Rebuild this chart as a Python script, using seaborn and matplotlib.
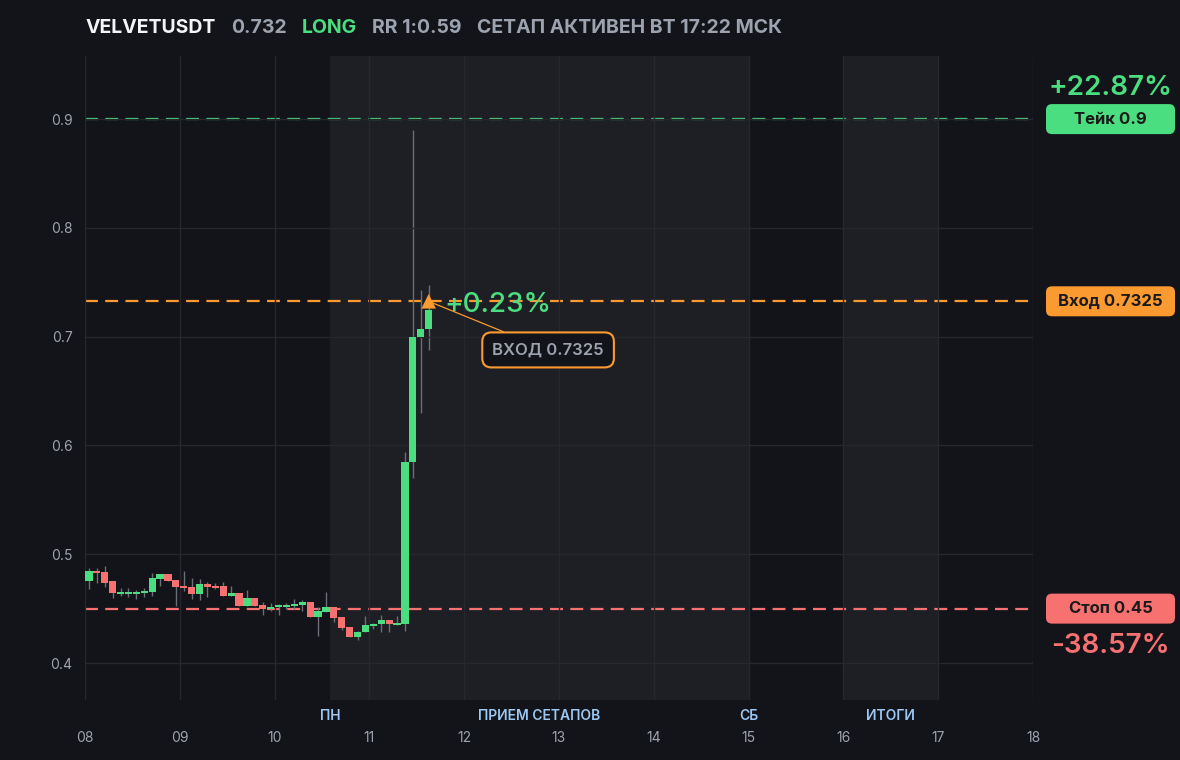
import numpy as np
import pandas as pd
import seaborn as sns
import matplotlib.pyplot as plt
from matplotlib.patches import FancyBboxPatch
from matplotlib.transforms import IdentityTransform, blended_transform_factory

# header
symbol = "VELVETUSDT"
last_price = "0.732"
side = "LONG"
rr_text = "RR 1:0.59"
status_text = "СЕТАП АКТИВЕН ВТ 17:22 МСК"

# x axis: days of month, 2h candles starting at day 08
day_ticks = [8, 9, 10, 11, 12, 13, 14, 15, 16, 17, 18]
day_labels = ["08", "09", "10", "11", "12", "13", "14", "15", "16", "17", "18"]
candle_start = 8.0
candle_step = 1 / 12

opens = [0.475, 0.485, 0.484, 0.475, 0.4635, 0.4635, 0.4635, 0.4645, 0.4655, 0.4775,
         0.482, 0.4765, 0.471, 0.470, 0.4635, 0.4725, 0.471, 0.471, 0.4615, 0.4645,
         0.4525, 0.460, 0.4535, 0.450, 0.4515, 0.4515, 0.4525, 0.4535, 0.4565, 0.4425,
         0.447, 0.4515, 0.4425, 0.4335, 0.424, 0.4285, 0.434, 0.436, 0.4395, 0.435,
         0.436, 0.585, 0.700, 0.707]
closes = [0.485, 0.483, 0.474, 0.464, 0.4655, 0.4655, 0.4655, 0.4665, 0.478, 0.482,
          0.4755, 0.470, 0.469, 0.4635, 0.4725, 0.470, 0.469, 0.4615, 0.4645, 0.4525,
          0.460, 0.4525, 0.450, 0.4515, 0.4535, 0.4535, 0.4545, 0.4565, 0.4425, 0.448,
          0.4515, 0.4415, 0.4325, 0.424, 0.4285, 0.435, 0.436, 0.4395, 0.436, 0.437,
          0.585, 0.700, 0.707, 0.7245]
highs = [0.487, 0.487, 0.489, 0.475, 0.469, 0.469, 0.467, 0.469, 0.483, 0.482,
         0.482, 0.4765, 0.485, 0.478, 0.4775, 0.4745, 0.4735, 0.4745, 0.471, 0.4645,
         0.467, 0.460, 0.456, 0.4555, 0.4545, 0.4555, 0.4585, 0.4575, 0.4565, 0.4515,
         0.4655, 0.4515, 0.4425, 0.4335, 0.4295, 0.4435, 0.437, 0.4445, 0.4395, 0.4435,
         0.594, 0.890, 0.743, 0.7475]
lows = [0.468, 0.474, 0.470, 0.460, 0.462, 0.461, 0.459, 0.461, 0.462, 0.471,
        0.4755, 0.452, 0.466, 0.459, 0.458, 0.461, 0.468, 0.4615, 0.4615, 0.4525,
        0.4525, 0.4525, 0.444, 0.4475, 0.4445, 0.4495, 0.4495, 0.4475, 0.4425, 0.425,
        0.4465, 0.438, 0.4305, 0.424, 0.4215, 0.4285, 0.4315, 0.4285, 0.4285, 0.435,
        0.429, 0.570, 0.630, 0.688]

# trade levels
take = 0.9
entry = 0.7325
stop = 0.45
take_label = "Тейк 0.9"
entry_label = "Вход 0.7325"
stop_label = "Стоп 0.45"
take_pct = "+22.87%"
stop_pct = "-38.57%"
entry_pct = "+0.23%"
entry_box = "ВХОД 0.7325"
entry_candle = 43

# session shading and labels
sessions = [(10 + 14 / 24, 15.0), (16.0, 17.0)]
session_names = ["ПН", "ПРИЕМ СЕТАПОВ", "СБ", "ИТОГИ"]
session_pos = [10 + 14 / 24, 12.79, 15.0, 16.5]

BG = "#131419"
SHADE = "#1e1f24"
GRID = "#27282e"
GREEN = "#4ade80"
RED = "#f87171"
ORANGE = "#fb9a30"
GRAY = "#9ca3af"
BLUE = "#9cc8f3"
WICK = "#6b6e78"

sns.set_theme(style="dark", rc={
    "axes.facecolor": BG, "figure.facecolor": BG, "axes.edgecolor": BG,
    "grid.color": GRID, "xtick.color": GRAY, "ytick.color": GRAY,
})
plt.rcParams["font.family"] = ["Inter", "DejaVu Sans"]

df = pd.DataFrame({"open": opens, "close": closes, "high": highs, "low": lows})
df["t"] = candle_start + candle_step * (np.arange(len(df)) + 0.5)
df["up"] = df["close"] >= df["open"]
df["bottom"] = df[["open", "close"]].min(axis=1)
df["height"] = (df["close"] - df["open"]).abs().clip(lower=0.0018)

fig = plt.figure(figsize=(11.8, 7.6), dpi=100)
ax = fig.add_axes([85 / 1180, 60 / 760, 948 / 1180, 644 / 760])
ax.set_xlim(8, 18)
ax.set_ylim(0.366, 0.958)

for a, b in sessions:
    ax.axvspan(a, b, color=SHADE, zorder=0, lw=0)

ax.set_axisbelow(False)
ax.grid(True, color=GRID, lw=1, zorder=0.5)
ax.set_xticks(day_ticks)
ax.set_xticklabels(day_labels)
ax.set_yticks([0.4, 0.5, 0.6, 0.7, 0.8, 0.9])
ax.set_yticklabels(["0.4", "0.5", "0.6", "0.7", "0.8", "0.9"])
ax.tick_params(axis="x", length=0, pad=22, labelsize=10, labelcolor=GRAY)
ax.tick_params(axis="y", length=0, pad=9, labelsize=10, labelcolor=GRAY)
for s in ax.spines.values():
    s.set_visible(False)

# level lines
for lvl, col in [(take, GREEN), (entry, ORANGE), (stop, RED)]:
    ax.axhline(lvl, color=col, lw=1.6, dashes=(5.8, 3.3), zorder=1)

# candles
ax.vlines(df["t"], df["low"], df["high"], color=WICK, lw=1, zorder=2)
colors = np.where(df["up"], GREEN, RED)
ax.bar(df["t"], df["height"], bottom=df["bottom"], width=0.075, color=colors,
       lw=0, zorder=3)

# entry marker and annotation
et = df["t"].iloc[entry_candle]
sns.scatterplot(x=[et], y=[entry], marker="^", s=110, color=ORANGE,
                edgecolor="none", ax=ax, zorder=5)
ax.annotate(entry_pct, xy=(et, entry), xytext=(11, -3), textcoords="offset points",
            ha="left", va="center", color=GREEN, fontsize=20, fontweight="medium",
            zorder=6)
ax.annotate(entry_box, xy=(et, entry), xytext=(86, -35), textcoords="offset points",
            ha="center", va="center", color=GRAY, fontsize=12, fontweight="semibold",
            bbox=dict(boxstyle="round,pad=0.6,rounding_size=0.55", fc=BG, ec=ORANGE, lw=1.5),
            arrowprops=dict(arrowstyle="-", color=ORANGE, lw=0.9, shrinkA=0, shrinkB=0),
            zorder=6)
ax.set_xlabel("")
ax.set_ylabel("")
if ax.get_legend():
    ax.get_legend().remove()

# session labels below the plot
trans = blended_transform_factory(ax.transData, ax.transAxes)
for name, x in zip(session_names, session_pos):
    ax.text(x, -16 / 644, name, transform=trans, ha="center", va="center",
            color=BLUE, fontsize=10, fontweight="semibold", clip_on=False)

# right side price tags
def ypx(v):
    return ax.transData.transform((8, v))[1]

for lvl, col, lab in [(take, GREEN, take_label), (entry, ORANGE, entry_label), (stop, RED, stop_label)]:
    y = ypx(lvl)
    fig.add_artist(FancyBboxPatch((1046, y - 15), 129, 30,
                                  boxstyle="round,pad=0,rounding_size=6",
                                  transform=IdentityTransform(), fc=col, ec="none"))
    fig.text(1110.5 / 1180, y / 760, lab, ha="center", va="center",
             color="#1a1a1a", fontsize=12, fontweight="bold")

fig.text(1110.5 / 1180, (ypx(take) + 31) / 760, take_pct, ha="center", va="center",
         color=GREEN, fontsize=20, fontweight="semibold")
fig.text(1110.5 / 1180, (ypx(stop) - 37) / 760, stop_pct, ha="center", va="center",
         color=RED, fontsize=20, fontweight="semibold")

# header line, pieces chained left to right
renderer = fig.canvas.get_renderer()
x = 86
for txt, col in [(symbol, "#f3f4f6"), (last_price, GRAY), (side, GREEN),
                 (rr_text, GRAY), (status_text, GRAY)]:
    t = fig.text(x / 1180, (760 - 28) / 760, txt, ha="left", va="center",
                 color=col, fontsize=14, fontweight="bold")
    x = t.get_window_extent(renderer=renderer).x1 + 15

fig.savefig("out.png", dpi=100, facecolor=BG)
